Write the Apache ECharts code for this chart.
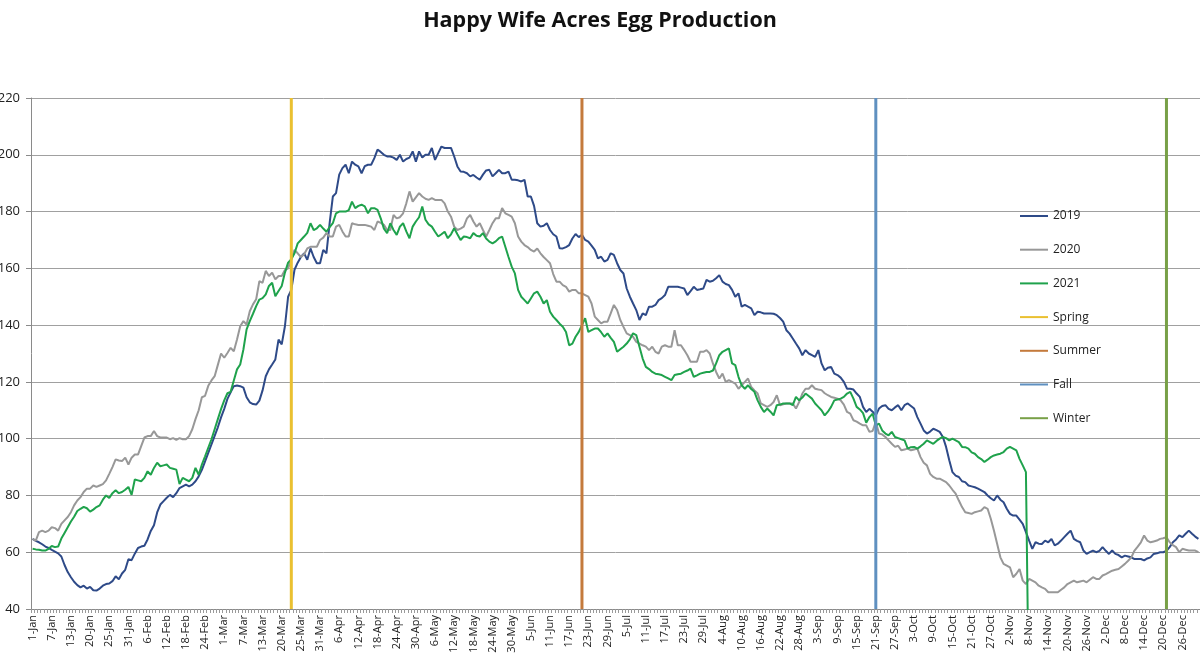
<!DOCTYPE html>
<html>
<head>
<meta charset="utf-8">
<script src="https://cdn.jsdelivr.net/npm/echarts@6/dist/echarts.min.js"></script>
<style>
html,body{margin:0;padding:0;background:#fff;}
#chart{width:1200px;height:666px;}
</style>
</head>
<body>
<div id="chart"></div>
<script>
// Day-of-year categories (one per day, 366 rows as in the source sheet)
const monthNames = ['Jan','Feb','Mar','Apr','May','Jun','Jul','Aug','Sep','Oct','Nov','Dec'];
const monthLengths = [31,29,31,30,31,30,31,31,30,31,30,31];
const categories = [];
monthNames.forEach(function (m, mi) {
  for (let d = 1; d <= monthLengths[mi]; d++) categories.push(d + '-' + m);
});

// Tick labels shown on the x axis (every 6th row)
const tickLabels = ['1-Jan','7-Jan','13-Jan','20-Jan','25-Jan','31-Jan','6-Feb','12-Feb','18-Feb','24-Feb',
'1-Mar','7-Mar','13-Mar','20-Mar','25-Mar','31-Mar','6-Apr','12-Apr','18-Apr','24-Apr','30-Apr',
'6-May','12-May','18-May','24-May','30-May','5-Jun','11-Jun','17-Jun','23-Jun','29-Jun',
'5-Jul','11-Jul','17-Jul','23-Jul','29-Jul','4-Aug','10-Aug','16-Aug','22-Aug','28-Aug',
'3-Sep','9-Sep','15-Sep','21-Sep','27-Sep','3-Oct','9-Oct','15-Oct','21-Oct','27-Oct',
'2-Nov','8-Nov','14-Nov','20-Nov','26-Nov','2-Dec','8-Dec','14-Dec','20-Dec','26-Dec'];
const tickStep = 6;

// Y axis
const yMin = 40, yMax = 220, yStep = 20;

// Series values (eggs per day)
const eggs2019 = [
64.7,64,63.5,62.8,62,61.5,60.8,60.2,59.6,58.5,
55.5,53,51.2,49.6,48.4,47.6,48.2,47.2,47.8,46.6,
46.5,47.2,48.2,48.8,49,49.8,51.5,50.5,52.5,53.8,
57.5,57.2,59.5,61.5,62,62.3,64.5,67.5,69.5,74,
76.8,78,79.2,80.2,79.4,80.8,82.6,83.2,83.8,83.2,
83.8,85,86.7,89,92,95,98,101,104,107.5,
110.5,114,116.3,118.5,118.7,118.5,118,114.6,112.8,112.2,
112,113.4,117,122,124.4,126.1,127.9,134.9,133.2,139.6,
150,152.4,159.5,162,164,165.3,163,167,164,161.8,
161.8,166.5,165.3,175.9,185.3,186.5,193,195.3,196.5,193.5,
197.6,196.5,195.9,193.5,196,196.5,196.5,198.8,201.8,201,
200,199.4,199.4,199,198.2,200,197.6,198.5,199,201.2,
197.6,201.2,199,200,200,202.4,198.2,200.6,202.9,202.4,
202.4,202.4,199.4,195.9,194.1,194,193.5,192.4,192.9,192,
191.2,193,194.5,194.7,192.4,193.5,194.7,193.5,193.5,194.1,
191.2,191.2,191,190.6,191.2,185.3,185.3,182,175.9,174.7,
175,175.9,173.5,172,171.2,167.1,167,167.5,168.2,170.5,
172.1,171,171.8,170,169.4,168,166.5,163.5,164.1,162.4,
163,165.3,164.7,161.8,159.4,158.2,152.9,150,147.6,145.3,
141.8,144.1,143.5,146.5,146.5,147.1,148.8,149.5,150.6,153.5,
153.5,153.5,153.5,153.2,152.9,150.6,152,153.5,152.4,152.6,
152.9,155.9,155.3,155.6,156.5,157.6,155.3,154.5,154.1,152.4,
150,151.2,146.5,147.1,146.5,145.9,143.5,144.7,144.5,144.1,
144.1,144.1,144,143.5,142.5,141.2,138.2,137,135.3,133.5,
131.8,129.4,131.2,130,129.4,128.8,131.2,126.5,124.1,125,
125.3,122.9,122.4,121.5,120,117.6,117.6,117.3,115.9,114.7,
111.2,109.4,110.5,109.5,108.2,110.6,111.5,111.8,110.5,110,
111,111.8,110,111.8,112.4,111.5,110.6,107.6,105.3,102.9,
101.8,102.5,103.5,103,102.4,100.6,97.1,92.4,88.2,87,
86.5,85,84.7,83.5,83.2,82.9,82.4,81.8,81.2,80,
79,78.2,80,78.5,77.6,75.3,73.5,72.9,72.9,71.5,
70,67.1,64.1,61.2,63.5,63,62.9,64.1,63.5,64.7,
62.4,63,64.1,65.3,66.5,67.6,64.7,64,63.5,60.6,
59.4,60,60.6,60,60.5,61.8,60.5,59.4,60.6,59.4,
59,58.2,58.8,58.5,58.2,57.6,57.6,57.6,57.1,57.8,
58.2,59.4,59.6,60,60,60.5,61.8,63.5,64.5,65.9,
65.3,66.5,67.6,66.5,65.5,64.7];

const eggs2020 = [
64.7,64.1,67.1,67.6,67.1,67.6,68.8,68.5,67.6,70,
71.2,72.4,74.1,76.5,78.2,79.4,81.2,82.4,82.4,83.5,
83,83.5,84,85.3,87.6,90,92.7,92.3,92.1,93.3,
90.9,93.3,94.4,94.4,97.4,100.4,100.9,100.9,102.7,100.9,
100.4,100.4,100.4,99.8,100.2,99.6,100.2,99.8,99.8,100.9,
103.3,106.9,110,114.6,115.1,118.6,120.5,122,126,130,
128.5,130.2,132,130.8,134.9,139.6,141.4,140.2,144.9,147.3,
149.1,155.5,154.9,159.1,157.3,158.5,156.1,157.3,157.3,159.4,
160,163.2,166.5,165.3,164,165,167,167.6,167.6,167.6,
170,170.8,172.4,171.2,171.2,174.7,175.3,173,171.2,171.2,
175.9,175.5,175.3,175.3,175.3,175,174.7,173.5,176.5,176,
175.3,173.5,173.5,178.8,177.6,178,179.4,182.9,187.1,183.5,
185,186.5,185.3,184.5,184.1,184.7,184.1,184.1,184.1,182.9,
180,178.2,174.7,173.5,174,174.7,177.6,178.8,176.5,174.7,
175.9,173.5,171.2,173.5,175.9,177.6,177.6,181.2,179.4,178.8,
178.2,175.9,171.2,169.4,168.2,167.5,166.5,165.9,167,165.3,
164,162.9,161.8,158,155.3,155.3,154.1,153.5,151.8,152.4,
152.4,151.2,151.2,150.6,150,147.6,143,141.8,140.6,141.2,
141.2,144.1,147.1,145.3,141.8,139.4,137.1,136.5,135.9,134.1,
133.5,132.9,132.4,131.2,132.4,130.6,130,132.4,132.9,132.4,
132.4,138.2,132.9,132.9,131.2,129.4,127.1,127.1,127.1,130.6,
130.6,131.2,130,126.5,123.5,121.2,122.9,120,120.6,120,
119.4,117.6,118.8,120,121.2,118.2,117,115.9,112.4,111.8,
111.2,111.8,112.9,115.3,111.8,112.1,112.4,112.4,112.4,110.6,
112.9,115.9,117.6,117.6,118.8,117.6,117.3,117.1,116,115.3,
114.7,114.4,114.1,113.5,112,109.4,108.8,106.5,106,105.3,
104.7,104.7,102.4,102.7,105.9,101.8,101.5,100.6,99.4,98.2,
97.1,97.5,95.9,96.2,96.5,95.9,96.2,96.5,93.5,91.5,
90.6,87.6,86.5,85.9,85.9,85.3,84.7,83.5,82,80.6,
78.2,75.9,74.1,73.8,73.5,74.1,74.4,74.7,75.9,75.3,
71.8,67.6,62.9,58.2,55.9,55.3,54.7,51.2,52.4,54.1,
50,48.8,50.6,50,49.4,48.2,47.6,47.1,45.9,45.9,
45.9,45.9,46.8,47.6,48.8,49.4,50,49.4,49.7,50,
49.4,50.3,51.2,50.6,50.6,51.8,52.3,52.9,53.5,53.8,
54.1,55,55.9,57,58.2,60.6,62,63.5,65.9,64.1,
63.5,63.8,64.1,64.7,64.9,65.3,63.5,62.5,61.8,60,
61.2,60.9,60.6,60.6,60.6,60];

const eggs2021 = [
61.2,61,60.9,60.6,60.6,61.2,62.2,61.8,62,64.8,
66.8,68.8,70.8,72.5,74.5,75.3,76,75.5,74.3,75,
75.9,76.5,78.5,80,79.1,80.8,81.8,80.8,81.2,82,
83,80.2,85.6,85.3,85,86.2,88.5,87.3,89.7,91.5,
90.3,90.6,90.9,89.7,89.4,89.1,84,86.2,85.6,85,
86.2,89.7,87.3,90.9,93.8,96.8,99.8,103.3,106.9,110.4,
113.5,116,116.5,120.5,124.4,126.1,131.4,138.5,141.4,144,
146.7,149,149.5,150.8,153.8,154.9,150.2,152,153.8,158.5,
162,163.2,165.3,168.8,170,171.2,172.5,175.9,173.5,174.1,
175.3,174,172.9,174.5,175.9,179.4,180,180,180,180.5,
183.5,181.2,182,182.4,181.8,179.4,181.2,181.2,180.6,177.6,
174,172.4,175.9,173.5,171.8,174.7,175.9,173,170.6,174.7,
176.5,178,181.8,177.1,175.5,174.7,172.9,171.2,172,172.9,
170.6,172,174.1,172,170,171.2,171,170.6,172.4,171.5,
171.2,172.4,170.5,169.4,168.8,169.5,170.6,171.2,167.6,164,
160.6,158.2,152.4,150,148.8,147.6,149.4,151.2,151.8,150,
147.6,148.8,144.7,143,141.8,140.5,139.4,137.6,132.9,133.5,
135.9,137.6,140,142.4,137.6,138.2,138.8,138.8,137.5,135.9,
137.1,135.5,134.1,130.6,131.5,132.4,133.5,135,137.1,136.5,
132.4,128.2,125.3,124.5,123.5,122.9,122.7,122.4,121.8,121.2,
120.6,122.4,122.7,122.9,123.5,124,124.7,121.8,122.3,122.9,
123.2,123.5,123.5,124,126.5,129.4,130.6,131.2,131.8,126.5,
125.9,121.8,118.8,117.6,118.8,117.5,116.5,113.5,111.2,109.4,
110.6,109.5,108.2,111.8,112,112.4,112.4,112.4,111.8,114.7,
113.5,114.5,115.9,115,114.1,112.4,111.2,110,108.2,109.5,
111.2,113.5,113.8,114.1,114.7,115.9,116.5,114.1,111.2,110.3,
109,105.6,107.6,108.8,104.7,105.3,102.9,101.8,101.2,102.4,
100.6,100.2,99.8,99.4,96.5,97,97.1,96.5,97.3,98.2,
99.4,98.8,98.2,99.2,100,100.6,100.2,99.4,100,99.4,
98.8,97.1,97,96.5,95.2,94.7,93.5,92.8,91.8,92.6,
93.5,94.1,94.4,94.7,95.3,96.5,97.1,96.5,95.9,92.9,
90.6,88.2,0];

// Season start rows (category index of each vertical marker)
const seasonNames = ['Spring','Summer','Fall','Winter'];
const seasonRows = [81, 172, 264, 355];

const yearNames = ['2019','2020','2021'];
const yearValues = [eggs2019, eggs2020, eggs2021];
const yearColors = ['#2E4A88','#989898','#1FA24C'];
const seasonColors = ['#EAC030','#C47A3C','#5F90C0','#78A047'];

const labelMap = {};
tickLabels.forEach(function (t, k) { labelMap[categories[k * tickStep]] = t; });

const series = [];
yearNames.forEach(function (n, i) {
  series.push({
    name: n, type: 'line', data: yearValues[i], symbol: 'none', showSymbol: false,
    lineStyle: {width: 2, color: yearColors[i]}, itemStyle: {color: yearColors[i]},
    connectNulls: false, clip: true, z: 2
  });
});
seasonNames.forEach(function (n, i) {
  const c = categories[seasonRows[i]];
  series.push({
    name: n, type: 'line', data: [[c, yMin], [c, yMax]], symbol: 'none', showSymbol: false,
    lineStyle: {width: 3, color: seasonColors[i]}, itemStyle: {color: seasonColors[i]}, z: 3
  });
});

const chart = echarts.init(document.getElementById('chart'), null, {renderer: 'canvas'});
chart.setOption({
  animation: false,
  backgroundColor: '#ffffff',
  title: {
    text: 'Happy Wife Acres Egg Production',
    left: 'center', top: 5,
    textStyle: {fontFamily: 'Open Sans', fontWeight: 'bold', fontSize: 21.5, color: '#111'}
  },
  legend: {
    orient: 'vertical', left: 1015, top: 205,
    icon: 'rect', itemWidth: 28, itemHeight: 2, itemGap: 21.7,
    data: yearNames.concat(seasonNames),
    textStyle: {fontFamily: 'Open Sans', fontSize: 12, color: '#222'}
  },
  grid: {left: 31, right: 0, top: 98, bottom: 57, containLabel: false, outerBoundsMode: 'none'},
  xAxis: {
    type: 'category', data: categories, boundaryGap: true,
    axisLine: {lineStyle: {color: '#8a8a8a', width: 1}},
    axisTick: {show: true, interval: 0, length: 4, lineStyle: {color: '#9a9a9a'}},
    axisLabel: {
      rotate: 90, fontFamily: 'Open Sans', fontSize: 11, color: '#222', margin: 6,
      interval: function (idx) { return idx % tickStep === 0; },
      formatter: function (v) { return labelMap[v] || ''; }
    },
    splitLine: {show: false}
  },
  yAxis: {
    type: 'value', min: yMin, max: yMax, interval: yStep,
    axisLine: {show: true, lineStyle: {color: '#8a8a8a'}},
    axisTick: {show: true, length: 5, lineStyle: {color: '#8a8a8a'}},
    axisLabel: {fontFamily: 'Open Sans', fontSize: 13, color: '#222', margin: 11},
    splitLine: {show: true, lineStyle: {color: '#a0a0a0', width: 1}}
  },
  series: series
});
</script>
</body>
</html>
